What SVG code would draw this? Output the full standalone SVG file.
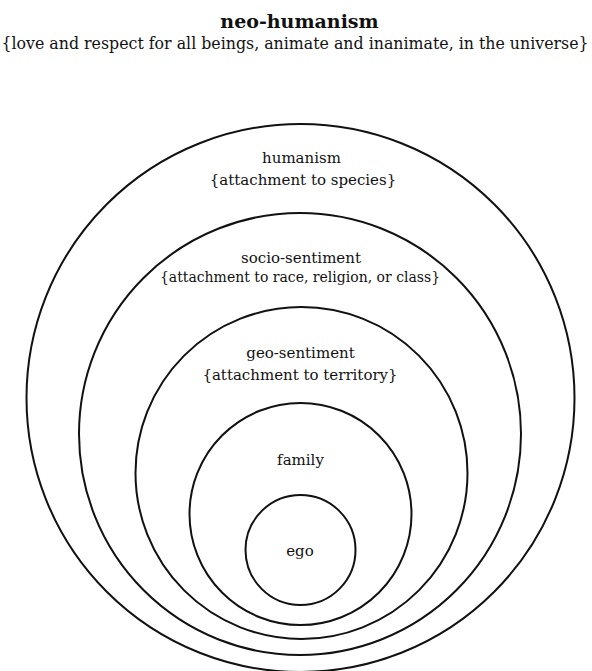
<svg xmlns="http://www.w3.org/2000/svg" width="592" height="671" viewBox="0 0 592 671">
  <style>
    .ring { fill: none; stroke: #111; stroke-width: 2; }
    .lbl { font-family: "DejaVu Serif", "Liberation Serif", serif; font-size: 15px; fill: #111; text-anchor: middle; }
    .title { font-family: "DejaVu Serif", "Liberation Serif", serif; font-size: 19px; font-weight: bold; fill: #111; text-anchor: middle; }
  </style>
  <rect width="592" height="671" fill="#fff"/>
  <g id="neo-humanism">
    <text class="title" x="299.5" y="28">neo-humanism</text>
    <text class="lbl" x="295" y="49" style="font-size:15.8px">{love and respect for all beings, animate and inanimate, in the universe}</text>
  </g>
  <g id="humanism">
    <circle class="ring" cx="300.5" cy="398" r="274"/>
    <text class="lbl" x="301.5" y="163">humanism</text>
    <text class="lbl" x="303" y="185">{attachment to species}</text>
  </g>
  <g id="socio-sentiment">
    <circle class="ring" cx="300" cy="434" r="221"/>
    <text class="lbl" x="301" y="263">socio-sentiment</text>
    <text class="lbl" x="300" y="282" style="font-size:14px">{attachment to race, religion, or class}</text>
  </g>
  <g id="geo-sentiment">
    <circle class="ring" cx="301.5" cy="473" r="166"/>
    <text class="lbl" x="300.5" y="358">geo-sentiment</text>
    <text class="lbl" x="300" y="380">{attachment to territory}</text>
  </g>
  <g id="family">
    <circle class="ring" cx="300.5" cy="514" r="111"/>
    <text class="lbl" x="300.5" y="465">family</text>
  </g>
  <g id="ego">
    <circle class="ring" cx="300.5" cy="550" r="55"/>
    <text class="lbl" x="300" y="556">ego</text>
  </g>
  <g id="connectors"/>
</svg>
